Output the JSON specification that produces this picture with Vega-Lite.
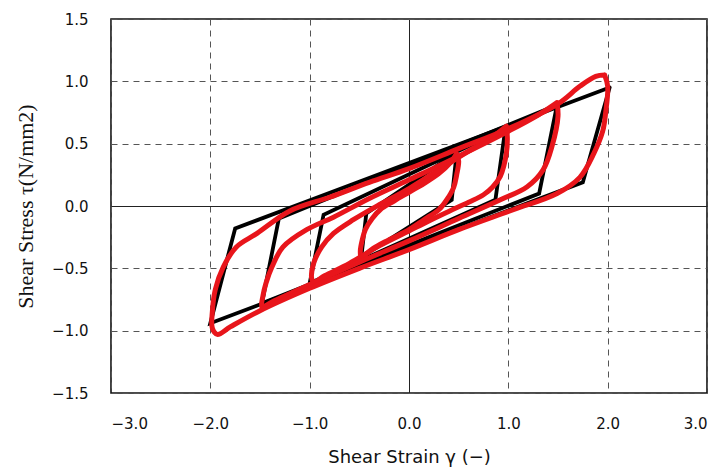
{
  "$schema": "https://vega.github.io/schema/vega-lite/v6.json",
  "width": 596,
  "height": 374,
  "autosize": {"type": "none"},
  "padding": {"left": 111, "top": 19, "right": 13, "bottom": 81},
  "background": "white",
  "config": {
    "view": {"stroke": "#111", "strokeWidth": 1.6},
    "axis": {
      "domain": false,
      "ticks": false,
      "labelFont": "DejaVu Sans",
      "labelFontSize": 15,
      "labelColor": "#111",
      "titleFontWeight": "normal",
      "titleColor": "#111",
      "gridColor": {"condition": {"test": "datum.value === 0", "value": "#222"}, "value": "#555"},
      "gridDash": {"condition": {"test": "datum.value === 0", "value": []}, "value": [6, 5]},
      "gridWidth": 1,
      "gridOpacity": 1
    }
  },
  "datasets": {
    "model": [
      {"loop": "0.5", "i": 0, "x": 0.48, "y": 0.43},
      {"loop": "0.5", "i": 1, "x": 0.43, "y": 0.05},
      {"loop": "0.5", "i": 2, "x": -0.48, "y": -0.41},
      {"loop": "0.5", "i": 3, "x": -0.43, "y": -0.06},
      {"loop": "0.5", "i": 4, "x": 0.48, "y": 0.43},
      {"loop": "1.0", "i": 0, "x": 0.97, "y": 0.62},
      {"loop": "1.0", "i": 1, "x": 0.87, "y": 0.05},
      {"loop": "1.0", "i": 2, "x": -1.0, "y": -0.62},
      {"loop": "1.0", "i": 3, "x": -0.86, "y": -0.07},
      {"loop": "1.0", "i": 4, "x": 0.97, "y": 0.62},
      {"loop": "1.5", "i": 0, "x": 1.49, "y": 0.81},
      {"loop": "1.5", "i": 1, "x": 1.31, "y": 0.10},
      {"loop": "1.5", "i": 2, "x": -1.48, "y": -0.78},
      {"loop": "1.5", "i": 3, "x": -1.31, "y": -0.10},
      {"loop": "1.5", "i": 4, "x": 1.49, "y": 0.81},
      {"loop": "2.0", "i": 0, "x": 2.02, "y": 0.95},
      {"loop": "2.0", "i": 1, "x": 1.75, "y": 0.19},
      {"loop": "2.0", "i": 2, "x": -2.0, "y": -0.94},
      {"loop": "2.0", "i": 3, "x": -1.75, "y": -0.18},
      {"loop": "2.0", "i": 4, "x": 2.02, "y": 0.95}
    ],
    "test": [
      {"loop": "0.5", "i": 0, "x": 0.48, "y": 0.42},
      {"loop": "0.5", "i": 1, "x": 0.50, "y": 0.36},
      {"loop": "0.5", "i": 2, "x": 0.48, "y": 0.25},
      {"loop": "0.5", "i": 3, "x": 0.45, "y": 0.15},
      {"loop": "0.5", "i": 4, "x": 0.38, "y": 0.05},
      {"loop": "0.5", "i": 5, "x": 0.30, "y": -0.03},
      {"loop": "0.5", "i": 6, "x": 0.15, "y": -0.11},
      {"loop": "0.5", "i": 7, "x": 0.0, "y": -0.19},
      {"loop": "0.5", "i": 8, "x": -0.2, "y": -0.27},
      {"loop": "0.5", "i": 9, "x": -0.36, "y": -0.34},
      {"loop": "0.5", "i": 10, "x": -0.45, "y": -0.40},
      {"loop": "0.5", "i": 11, "x": -0.48, "y": -0.42},
      {"loop": "0.5", "i": 12, "x": -0.49, "y": -0.36},
      {"loop": "0.5", "i": 13, "x": -0.47, "y": -0.27},
      {"loop": "0.5", "i": 14, "x": -0.44, "y": -0.19},
      {"loop": "0.5", "i": 15, "x": -0.37, "y": -0.10},
      {"loop": "0.5", "i": 16, "x": -0.29, "y": -0.03},
      {"loop": "0.5", "i": 17, "x": -0.15, "y": 0.04},
      {"loop": "0.5", "i": 18, "x": 0.0, "y": 0.11},
      {"loop": "0.5", "i": 19, "x": 0.15, "y": 0.18},
      {"loop": "0.5", "i": 20, "x": 0.30, "y": 0.26},
      {"loop": "0.5", "i": 21, "x": 0.42, "y": 0.35},
      {"loop": "0.5", "i": 22, "x": 0.48, "y": 0.42},
      {"loop": "1.0", "i": 0, "x": 0.98, "y": 0.64},
      {"loop": "1.0", "i": 1, "x": 0.99, "y": 0.55},
      {"loop": "1.0", "i": 2, "x": 0.98, "y": 0.42},
      {"loop": "1.0", "i": 3, "x": 0.92, "y": 0.24},
      {"loop": "1.0", "i": 4, "x": 0.84, "y": 0.15},
      {"loop": "1.0", "i": 5, "x": 0.75, "y": 0.09},
      {"loop": "1.0", "i": 6, "x": 0.6, "y": 0.03},
      {"loop": "1.0", "i": 7, "x": 0.41, "y": -0.04},
      {"loop": "1.0", "i": 8, "x": 0.2, "y": -0.12},
      {"loop": "1.0", "i": 9, "x": 0.0, "y": -0.20},
      {"loop": "1.0", "i": 10, "x": -0.3, "y": -0.32},
      {"loop": "1.0", "i": 11, "x": -0.6, "y": -0.46},
      {"loop": "1.0", "i": 12, "x": -0.85, "y": -0.56},
      {"loop": "1.0", "i": 13, "x": -0.96, "y": -0.61},
      {"loop": "1.0", "i": 14, "x": -0.98, "y": -0.58},
      {"loop": "1.0", "i": 15, "x": -0.96, "y": -0.46},
      {"loop": "1.0", "i": 16, "x": -0.88, "y": -0.33},
      {"loop": "1.0", "i": 17, "x": -0.76, "y": -0.22},
      {"loop": "1.0", "i": 18, "x": -0.56, "y": -0.11},
      {"loop": "1.0", "i": 19, "x": -0.3, "y": 0.01},
      {"loop": "1.0", "i": 20, "x": 0.0, "y": 0.14},
      {"loop": "1.0", "i": 21, "x": 0.3, "y": 0.29},
      {"loop": "1.0", "i": 22, "x": 0.6, "y": 0.44},
      {"loop": "1.0", "i": 23, "x": 0.85, "y": 0.56},
      {"loop": "1.0", "i": 24, "x": 0.98, "y": 0.64},
      {"loop": "1.5", "i": 0, "x": 1.49, "y": 0.83},
      {"loop": "1.5", "i": 1, "x": 1.50, "y": 0.72},
      {"loop": "1.5", "i": 2, "x": 1.44, "y": 0.48},
      {"loop": "1.5", "i": 3, "x": 1.35, "y": 0.29},
      {"loop": "1.5", "i": 4, "x": 1.19, "y": 0.155},
      {"loop": "1.5", "i": 5, "x": 0.92, "y": 0.05},
      {"loop": "1.5", "i": 6, "x": 0.5, "y": -0.10},
      {"loop": "1.5", "i": 7, "x": 0.0, "y": -0.28},
      {"loop": "1.5", "i": 8, "x": -0.5, "y": -0.45},
      {"loop": "1.5", "i": 9, "x": -1.0, "y": -0.63},
      {"loop": "1.5", "i": 10, "x": -1.38, "y": -0.77},
      {"loop": "1.5", "i": 11, "x": -1.48, "y": -0.81},
      {"loop": "1.5", "i": 12, "x": -1.47, "y": -0.72},
      {"loop": "1.5", "i": 13, "x": -1.44, "y": -0.62},
      {"loop": "1.5", "i": 14, "x": -1.38, "y": -0.49},
      {"loop": "1.5", "i": 15, "x": -1.27, "y": -0.33},
      {"loop": "1.5", "i": 16, "x": -1.03, "y": -0.19},
      {"loop": "1.5", "i": 17, "x": -0.76, "y": -0.09},
      {"loop": "1.5", "i": 18, "x": -0.4, "y": 0.06},
      {"loop": "1.5", "i": 19, "x": 0.0, "y": 0.21},
      {"loop": "1.5", "i": 20, "x": 0.5, "y": 0.40},
      {"loop": "1.5", "i": 21, "x": 1.0, "y": 0.60},
      {"loop": "1.5", "i": 22, "x": 1.3, "y": 0.73},
      {"loop": "1.5", "i": 23, "x": 1.49, "y": 0.83},
      {"loop": "2.0", "i": 0, "x": 1.97, "y": 1.05},
      {"loop": "2.0", "i": 1, "x": 2.0, "y": 0.96},
      {"loop": "2.0", "i": 2, "x": 1.98, "y": 0.75},
      {"loop": "2.0", "i": 3, "x": 1.95, "y": 0.60},
      {"loop": "2.0", "i": 4, "x": 1.86, "y": 0.42},
      {"loop": "2.0", "i": 5, "x": 1.72, "y": 0.23},
      {"loop": "2.0", "i": 6, "x": 1.49, "y": 0.10},
      {"loop": "2.0", "i": 7, "x": 1.05, "y": -0.03},
      {"loop": "2.0", "i": 8, "x": 0.5, "y": -0.19},
      {"loop": "2.0", "i": 9, "x": 0.0, "y": -0.35},
      {"loop": "2.0", "i": 10, "x": -0.5, "y": -0.50},
      {"loop": "2.0", "i": 11, "x": -1.0, "y": -0.66},
      {"loop": "2.0", "i": 12, "x": -1.5, "y": -0.84},
      {"loop": "2.0", "i": 13, "x": -1.8, "y": -0.97},
      {"loop": "2.0", "i": 14, "x": -1.93, "y": -1.03},
      {"loop": "2.0", "i": 15, "x": -1.98, "y": -0.98},
      {"loop": "2.0", "i": 16, "x": -1.98, "y": -0.85},
      {"loop": "2.0", "i": 17, "x": -1.95, "y": -0.67},
      {"loop": "2.0", "i": 18, "x": -1.87, "y": -0.49},
      {"loop": "2.0", "i": 19, "x": -1.74, "y": -0.33},
      {"loop": "2.0", "i": 20, "x": -1.53, "y": -0.22},
      {"loop": "2.0", "i": 21, "x": -1.2, "y": -0.04},
      {"loop": "2.0", "i": 22, "x": -0.8, "y": 0.07},
      {"loop": "2.0", "i": 23, "x": -0.4, "y": 0.19},
      {"loop": "2.0", "i": 24, "x": 0.0, "y": 0.30},
      {"loop": "2.0", "i": 25, "x": 0.5, "y": 0.46},
      {"loop": "2.0", "i": 26, "x": 1.0, "y": 0.62},
      {"loop": "2.0", "i": 27, "x": 1.5, "y": 0.82},
      {"loop": "2.0", "i": 28, "x": 1.72, "y": 0.96},
      {"loop": "2.0", "i": 29, "x": 1.88, "y": 1.04},
      {"loop": "2.0", "i": 30, "x": 1.97, "y": 1.05}
    ]
  },
  "layer": [
    {
      "data": {"name": "model"},
      "mark": {"type": "line", "color": "#000", "strokeWidth": 3.8, "strokeJoin": "miter", "strokeCap": "round"},
      "encoding": {
        "x": {
          "field": "x", "type": "quantitative",
          "scale": {"domain": [-3, 3], "nice": false, "zero": false},
          "axis": {"values": [-3, -2, -1, 0, 1, 2, 3], "format": ".1f", "grid": true, "labelPadding": 23,
                   "title": "Shear Strain γ (−)", "titleFont": "DejaVu Sans", "titleFontSize": 18, "titlePadding": 17}
        },
        "y": {
          "field": "y", "type": "quantitative",
          "scale": {"domain": [-1.5, 1.5], "nice": false, "zero": false},
          "axis": {"values": [-1.5, -1, -0.5, 0, 0.5, 1, 1.5], "format": ".1f", "grid": true, "labelPadding": 23,
                   "title": "Shear Stress τ(N/mm2)", "titleFont": "Liberation Serif", "titleFontSize": 22, "titlePadding": 14}
        },
        "detail": {"field": "loop"},
        "order": {"field": "i", "type": "quantitative"}
      }
    },
    {
      "data": {"name": "test"},
      "mark": {"type": "line", "color": "#e8151b", "strokeWidth": 5, "strokeJoin": "round", "strokeCap": "round", "interpolate": "catmull-rom"},
      "encoding": {
        "x": {"field": "x", "type": "quantitative"},
        "y": {"field": "y", "type": "quantitative"},
        "detail": {"field": "loop"},
        "order": {"field": "i", "type": "quantitative"}
      }
    }
  ]
}
